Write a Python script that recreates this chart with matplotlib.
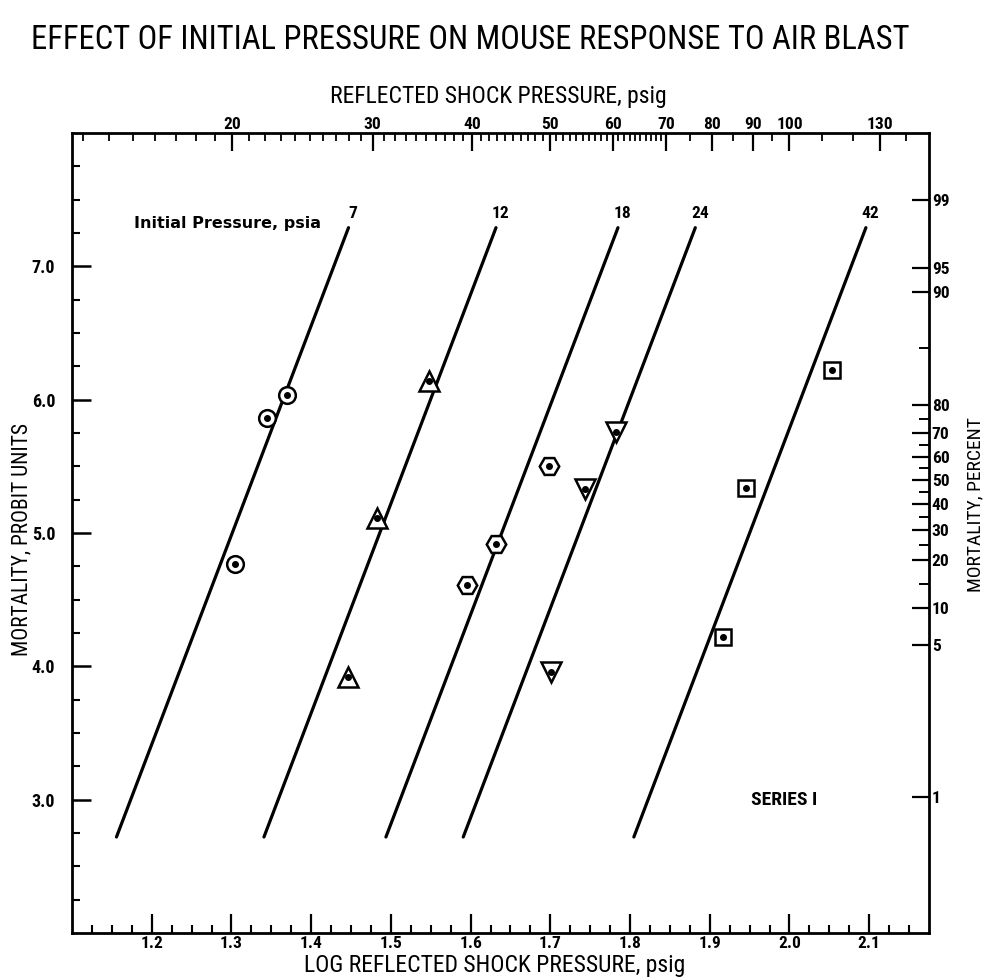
import matplotlib
matplotlib.use('Agg')
import matplotlib.pyplot as plt
import numpy as np
from matplotlib import font_manager

# ---------------- data ----------------
initial_pressures = ['7', '12', '18', '24', '42']
ld50_log = [1.301, 1.486, 1.639, 1.736, 1.950]      # log P at probit 5 for each fitted line
line_slope = 15.7                                   # probit units per log unit
line_probit_low = 2.72
line_probit_high = 7.29

pts_7_x = [1.304, 1.345, 1.370]
pts_7_y = [4.77, 5.86, 6.035]
pts_12_x = [1.446, 1.483, 1.548]
pts_12_y = [3.92, 5.11, 6.14]
pts_18_x = [1.595, 1.632, 1.698]
pts_18_y = [4.61, 4.92, 5.50]
pts_24_x = [1.701, 1.744, 1.782]
pts_24_y = [3.96, 5.33, 5.76]
pts_42_x = [1.917, 1.946, 2.053]
pts_42_y = [4.22, 5.34, 6.22]

probit_ticks = [3.0, 4.0, 5.0, 6.0, 7.0]
log_ticks = [1.2, 1.3, 1.4, 1.5, 1.6, 1.7, 1.8, 1.9, 2.0, 2.1]
top_labels = [20, 30, 40, 50, 60, 70, 80, 90, 100, 130]
percent_labels = [1, 5, 10, 20, 30, 40, 50, 60, 70, 80, 90, 95, 99]
# where each percent label sits on the probit scale of the printed chart
percent_label_probit = [3.02, 4.16, 4.44, 4.80, 5.02, 5.22, 5.40, 5.57, 5.75, 5.96, 6.81, 6.99, 7.50]

# ---------------- fonts ----------------
avail = {f.name for f in font_manager.fontManager.ttflist}
narrow = [f for f in ['Roboto Condensed', 'Liberation Sans Narrow', 'Liberation Sans', 'DejaVu Sans'] if f in avail]
plt.rcParams['font.family'] = narrow + ['DejaVu Sans']

fig = plt.figure(figsize=(9.87, 9.80), dpi=100)
L, R, B, T = 72/987, 929/987, 1-933/980, 1-133/980
ax = fig.add_axes([L, B, R-L, T-B])
ax.set_xlim(1.1, 2.175)
ax.set_ylim(2.0, 8.0)
for s in ax.spines.values():
    s.set_linewidth(2.0)

# fitted lines
yy = np.array([line_probit_low, line_probit_high])
for lab, ld in zip(initial_pressures, ld50_log):
    xx = ld + (yy - 5.0) / line_slope
    ax.plot(xx, yy, color='black', lw=2.3, solid_capstyle='round', zorder=2)
    ax.text(xx[1] + 0.006, yy[1] + 0.05, lab, fontsize=12.5, fontweight='bold',
            ha='center', va='bottom')

ax.text(1.178, 7.32, 'Initial Pressure, psia', fontsize=11.5, fontweight='bold',
        ha='left', va='center', family=['DejaVu Sans'])
ax.text(1.993, 3.0, 'SERIES I', fontsize=14, fontweight='bold', ha='center', va='center')

series = [(pts_7_x, pts_7_y, 'o', 12), (pts_12_x, pts_12_y, '^', 14),
          (pts_18_x, pts_18_y, 'H', 14), (pts_24_x, pts_24_y, 'v', 14),
          (pts_42_x, pts_42_y, 's', 11)]
for xs, ys, m, ms in series:
    ax.plot(xs, ys, ls='none', marker=m, ms=ms, mfc='white', mec='black', mew=1.8, zorder=3)
    ax.plot(xs, ys, ls='none', marker='o', ms=4, mfc='black', mec='black', zorder=4)

# bottom / left ticks
ax.set_xticks(log_ticks)
ax.set_xticklabels([f'{v:.1f}' for v in log_ticks], fontsize=12.5, fontweight='bold')
ax.set_xticks(np.arange(1.125, 2.175, 0.025), minor=True)
ax.set_yticks(probit_ticks)
ax.set_yticklabels([f'{v:.1f}' for v in probit_ticks], fontsize=13, fontweight='bold')
ax.set_yticks(np.arange(2.25, 8.0, 0.25), minor=True)
ax.tick_params(axis='x', which='major', direction='in', length=14, width=1.6, pad=2)
ax.tick_params(axis='y', which='major', direction='in', length=14, width=1.8, pad=12)
ax.tick_params(axis='both', which='minor', direction='in', length=6, width=1.5)
ax.tick_params(top=False, right=False, which='both')

# top axis: reflected shock pressure (log scale of psig)
axt = ax.twiny()
axt.set_xlim(ax.get_xlim())
axt.set_xticks(np.log10(top_labels))
axt.set_xticklabels([str(v) for v in top_labels], fontsize=12.5, fontweight='bold')
top_minor = list(range(13, 70)) + [75, 85, 95, 110, 120, 140]
axt.set_xticks(np.log10([v for v in top_minor if v not in top_labels]), minor=True)
axt.tick_params(axis='x', which='major', direction='in', length=13, width=1.6, pad=1)
axt.tick_params(axis='x', which='minor', direction='in', length=6, width=1.3)
for sp in axt.spines.values():
    sp.set_visible(False)

# right axis: percent mortality
axr = ax.twinx()
axr.set_ylim(ax.get_ylim())
axr.set_yticks(percent_label_probit)
axr.set_yticklabels([str(p) for p in percent_labels], fontsize=12.5, fontweight='bold')
# small ticks halfway between the labelled 10..90 percent marks
mid = [(a + b) / 2 for a, b in zip(percent_label_probit[2:10], percent_label_probit[3:11])]
axr.set_yticks(mid, minor=True)
axr.tick_params(axis='y', which='major', direction='in', length=12, width=1.6, pad=2)
axr.tick_params(axis='y', which='minor', direction='in', length=7, width=1.4)
for sp in axr.spines.values():
    sp.set_visible(False)

fig.text(470/987, 1-40/980, 'EFFECT OF INITIAL PRESSURE ON MOUSE RESPONSE TO AIR BLAST',
         fontsize=23.5, ha='center', va='center')
fig.text(498/987, 1-97/980, 'REFLECTED SHOCK PRESSURE, psig', fontsize=17, ha='center', va='center')
fig.text(495/987, 1-965/980, 'LOG REFLECTED SHOCK PRESSURE, psig', fontsize=17, ha='center', va='center')
fig.text(22/987, 1-540/980, 'MORTALITY, PROBIT UNITS', fontsize=15.5, ha='center', va='center', rotation=90)
fig.text(975/987, 1-505/980, 'MORTALITY, PERCENT', fontsize=14, ha='center', va='center', rotation=90)

fig.savefig('out.png', dpi=100)
